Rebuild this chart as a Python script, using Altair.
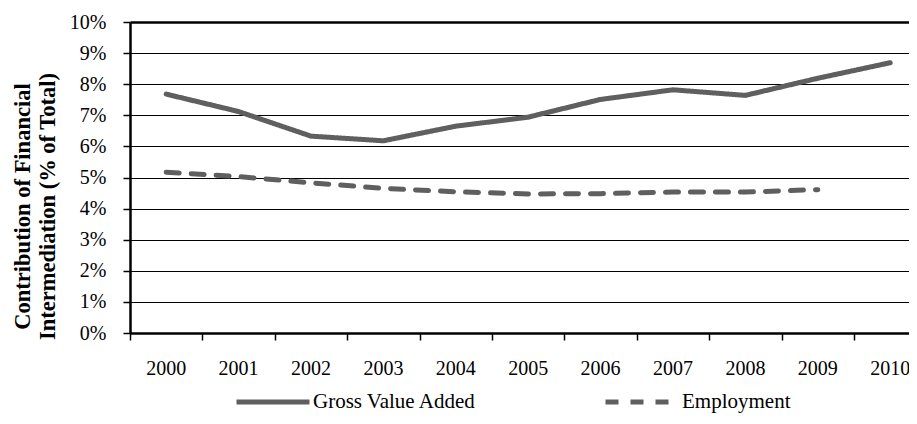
import altair as alt
import pandas as pd

years = [2000, 2001, 2002, 2003, 2004, 2005, 2006, 2007, 2008, 2009, 2010]
gva = [7.68, 7.12, 6.33, 6.18, 6.65, 6.94, 7.51, 7.82, 7.64, 8.19, 8.69]
emp_years = [2000, 2001, 2002, 2003, 2004, 2005, 2006, 2007, 2008, 2009]
emp = [5.17, 5.03, 4.83, 4.65, 4.54, 4.47, 4.48, 4.53, 4.53, 4.61]
series_names = ["Gross Value Added", "Employment"]
y_ticks = [0, 1, 2, 3, 4, 5, 6, 7, 8, 9, 10]
x_tick_positions = [y - 0.5 for y in years]

rows = [{"year": y, "value": v, "series": series_names[0]} for y, v in zip(years, gva)]
rows += [{"year": y, "value": v, "series": series_names[1]} for y, v in zip(emp_years, emp)]
df = pd.DataFrame(rows)
lab = pd.DataFrame({"year": years, "label": [str(y) for y in years]})

FONT = "Liberation Serif"
GRAY = "#5f5f5f"
W, H = 779, 311

xenc = alt.X(
    "year:Q",
    scale=alt.Scale(domain=[1999.5, 1999.5 + W / 72.4], nice=False, zero=False),
    axis=alt.Axis(
        values=x_tick_positions, labels=False, title=None, grid=False,
        domainColor="black", domainWidth=2.5, tickColor="black", tickWidth=1.5, tickSize=7,
    ),
)

lines = alt.Chart(df).mark_line(strokeWidth=5, strokeCap="round", color=GRAY, clip=True).encode(
    x=xenc,
    y=alt.Y(
        "value:Q",
        scale=alt.Scale(domain=[0, 10], nice=False),
        axis=alt.Axis(
            values=y_ticks,
            labelExpr="datum.value + '%'",
            title=["Contribution of Financial", "Intermediation (% of Total)"],
            titleFont=FONT, titleFontSize=22.5, titleFontWeight="bold", titleColor="black",
            titleLineHeight=25, titlePadding=10, titleY=184,
            labelFont=FONT, labelFontSize=20, labelColor="black", labelPadding=17,
            tickSize=7, tickColor="black", tickWidth=1.5,
            domainColor="black", domainWidth=2.5,
            grid=True, gridColor="black",
            gridWidth={"condition": {"test": "datum.value >= 10", "value": 2.5}, "value": 1.2},
        ),
    ),
    strokeDash=alt.StrokeDash(
        "series:N",
        scale=alt.Scale(domain=series_names, range=[[1, 0], [13, 12]]),
        legend=alt.Legend(
            title=None, orient="none", legendX=104, legendY=341, direction="horizontal",
            symbolType="stroke", symbolSize=5329, symbolStrokeWidth=5, symbolStrokeColor=GRAY,
            labelFont=FONT, labelFontSize=21, labelColor="black", labelOffset=1,
            columnPadding=118, labelLimit=400, padding=0,
        ),
    ),
    order="year:Q",
)

labels = alt.Chart(lab).mark_text(font=FONT, fontSize=20, color="black", baseline="middle").encode(
    x=xenc,
    y=alt.value(H + 36),
    text="label:N",
)

chart = alt.layer(lines, labels).properties(
    width=W, height=H,
    autosize=alt.AutoSizeParams(type="none"),
    padding={"left": 122, "top": 14, "right": 0, "bottom": 82},
).configure_view(stroke=None).configure(background="white")

chart.save("out.html", embed_options={"renderer": "svg", "actions": False})
